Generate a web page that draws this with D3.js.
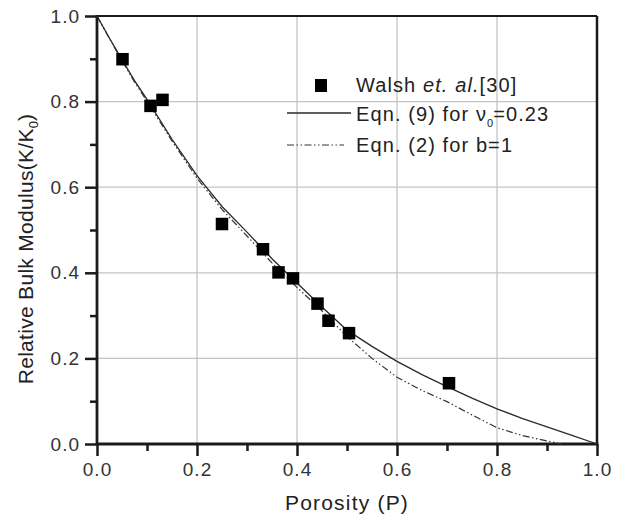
<!DOCTYPE html>
<html>
<head>
<meta charset="utf-8">
<script src="https://cdn.jsdelivr.net/npm/d3@7"></script>
<style>
  html, body { margin: 0; padding: 0; background: #fff; }
  svg { display: block; font-family: "Liberation Sans", Arial, sans-serif; }
</style>
</head>
<body>
<svg id="chart" width="625" height="521"></svg>
<script>
// ---- data ----
const walshP = [0.051, 0.107, 0.131, 0.25, 0.332, 0.363, 0.392, 0.441, 0.463, 0.504, 0.704];
const walshK = [0.899, 0.790, 0.804, 0.514, 0.455, 0.401, 0.387, 0.328, 0.288, 0.259, 0.142];

const eq9P = [0, 0.025, 0.05, 0.075, 0.1, 0.15, 0.2, 0.25, 0.3, 0.35, 0.4, 0.45, 0.5, 0.55, 0.6, 0.65, 0.7, 0.75, 0.8, 0.85, 0.9, 0.95, 1.0];
const eq9K = [1.0, 0.948, 0.898, 0.849, 0.805, 0.712, 0.627, 0.555, 0.495, 0.433, 0.376, 0.320, 0.266, 0.228, 0.193, 0.162, 0.134, 0.107, 0.082, 0.060, 0.040, 0.020, 0.0];

const eq2P = [0, 0.025, 0.05, 0.075, 0.1, 0.15, 0.2, 0.25, 0.3, 0.35, 0.4, 0.45, 0.5, 0.55, 0.6, 0.65, 0.7, 0.75, 0.8, 0.85, 0.9, 0.93];
const eq2K = [1.0, 0.947, 0.896, 0.846, 0.801, 0.708, 0.621, 0.548, 0.486, 0.423, 0.366, 0.311, 0.251, 0.200, 0.156, 0.125, 0.099, 0.068, 0.038, 0.020, 0.007, 0.0];

const xMajor = [0, 0.2, 0.4, 0.6, 0.8, 1.0];
const xMinor = [0.1, 0.3, 0.5, 0.7, 0.9];
const yMajor = [0, 0.2, 0.4, 0.6, 0.8, 1.0];
const yMinor = [0.1, 0.3, 0.5, 0.7, 0.9];

const xTitle = "Porosity (P)";
const yTitle = "Relative Bulk Modulus(K/K";

// ---- layout ----
const svg = d3.select("#chart");
const L = 97, R = 597, T = 16, B = 444;
const x = d3.scaleLinear().domain([0, 1]).range([L, R]);
const y = d3.scaleLinear().domain([0, 1]).range([B, T]);
const ink = "#1a1a1a";

// grid
const grid = svg.append("g").attr("stroke", "#c4c4c4").attr("stroke-width", 1.3);
xMajor.filter(v => v > 0 && v < 1).forEach(v => {
  grid.append("line").attr("x1", x(v)).attr("x2", x(v)).attr("y1", T).attr("y2", B);
});
yMajor.filter(v => v > 0 && v < 1).forEach(v => {
  grid.append("line").attr("x1", L).attr("x2", R).attr("y1", y(v)).attr("y2", y(v));
});

// axes
const fmt = d3.format(".1f");
const xAxis = svg.append("g").attr("transform", `translate(0,${B})`)
  .call(d3.axisBottom(x).tickValues(xMajor).tickFormat(fmt).tickSize(12).tickPadding(7));
const xAxisMinor = svg.append("g").attr("transform", `translate(0,${B})`)
  .call(d3.axisBottom(x).tickValues(xMinor).tickFormat("").tickSize(7));
const yAxis = svg.append("g").attr("transform", `translate(${L},0)`)
  .call(d3.axisLeft(y).tickValues(yMajor).tickFormat(fmt).tickSize(12).tickPadding(5));
const yAxisMinor = svg.append("g").attr("transform", `translate(${L},0)`)
  .call(d3.axisLeft(y).tickValues(yMinor).tickFormat("").tickSize(7));

[xAxis, xAxisMinor, yAxis, yAxisMinor].forEach(g => {
  g.select(".domain").remove();
  g.selectAll(".tick line").attr("stroke", ink).attr("stroke-width", 2.5);
  g.selectAll(".tick text").attr("fill", "#333").attr("font-size", 19)
    .attr("letter-spacing", 1).attr("font-family", "Liberation Sans, Arial, sans-serif");
});

// frame
svg.append("line").attr("x1", L).attr("x2", R).attr("y1", T).attr("y2", T).attr("stroke", ink).attr("stroke-width", 2.2);
svg.append("line").attr("x1", R).attr("x2", R).attr("y1", T).attr("y2", B).attr("stroke", ink).attr("stroke-width", 2.5);
svg.append("line").attr("x1", L).attr("x2", R + 1.2).attr("y1", B).attr("y2", B).attr("stroke", ink).attr("stroke-width", 2.8);
svg.append("line").attr("x1", L).attr("x2", L).attr("y1", T - 1.1).attr("y2", B + 1.4).attr("stroke", ink).attr("stroke-width", 2.8);

// curves
const line = d3.line().x(d => x(d[0])).y(d => y(d[1]));
svg.append("path").datum(eq2P.map((p, i) => [p, eq2K[i]]))
  .attr("d", line).attr("fill", "none").attr("stroke", "#333").attr("stroke-width", 1.2)
  .attr("stroke-dasharray", "7,2.5,1.5,2.5,1.5,2.5");
svg.append("path").datum(eq9P.map((p, i) => [p, eq9K[i]]))
  .attr("d", line).attr("fill", "none").attr("stroke", "#2a2a2a").attr("stroke-width", 1.3);

// markers
const S = 12.5;
svg.append("g").selectAll("rect").data(walshP.map((p, i) => [p, walshK[i]])).join("rect")
  .attr("x", d => x(d[0]) - S / 2).attr("y", d => y(d[1]) - S / 2)
  .attr("width", S).attr("height", S).attr("fill", "#000");

// legend
const lg = svg.append("g").attr("font-size", 20).attr("fill", "#222").attr("letter-spacing", 1.1);
lg.append("rect").attr("x", 315).attr("y", 79).attr("width", 12).attr("height", 13).attr("fill", "#000");
const t1 = lg.append("text").attr("x", 356).attr("y", 92);
t1.append("tspan").text("Walsh ");
t1.append("tspan").attr("font-style", "italic").text("et. al.");
t1.append("tspan").text("[30]");

lg.append("line").attr("x1", 287).attr("x2", 351).attr("y1", 113).attr("y2", 113)
  .attr("stroke", "#2a2a2a").attr("stroke-width", 1.3);
const t2 = lg.append("text").attr("x", 356).attr("y", 121);
t2.append("tspan").text("Eqn. (9) for ν");
t2.append("tspan").attr("font-size", 11).attr("dy", 6).attr("letter-spacing", 0).text("0");
t2.append("tspan").attr("dy", -6).text("=0.23");

lg.append("line").attr("x1", 287).attr("x2", 344).attr("y1", 145).attr("y2", 145)
  .attr("stroke", "#333").attr("stroke-width", 1.2).attr("stroke-dasharray", "7,2.5,1.5,2.5,1.5,2.5");
lg.append("text").attr("x", 356).attr("y", 152).text("Eqn. (2) for b=1");

// axis titles
svg.append("text").attr("x", (L + R) / 2).attr("y", 510).attr("text-anchor", "middle")
  .attr("font-size", 21).attr("fill", "#222").attr("letter-spacing", 1.2).text(xTitle);
const yt = svg.append("text").attr("transform", `translate(33,${249}) rotate(-90)`)
  .attr("text-anchor", "middle").attr("font-size", 21).attr("fill", "#222").attr("letter-spacing", 0.3);
yt.append("tspan").text(yTitle);
yt.append("tspan").attr("font-size", 13).attr("dy", 5).attr("letter-spacing", 0).text("0");
yt.append("tspan").attr("dy", -5).text(")");
</script>
</body>
</html>
